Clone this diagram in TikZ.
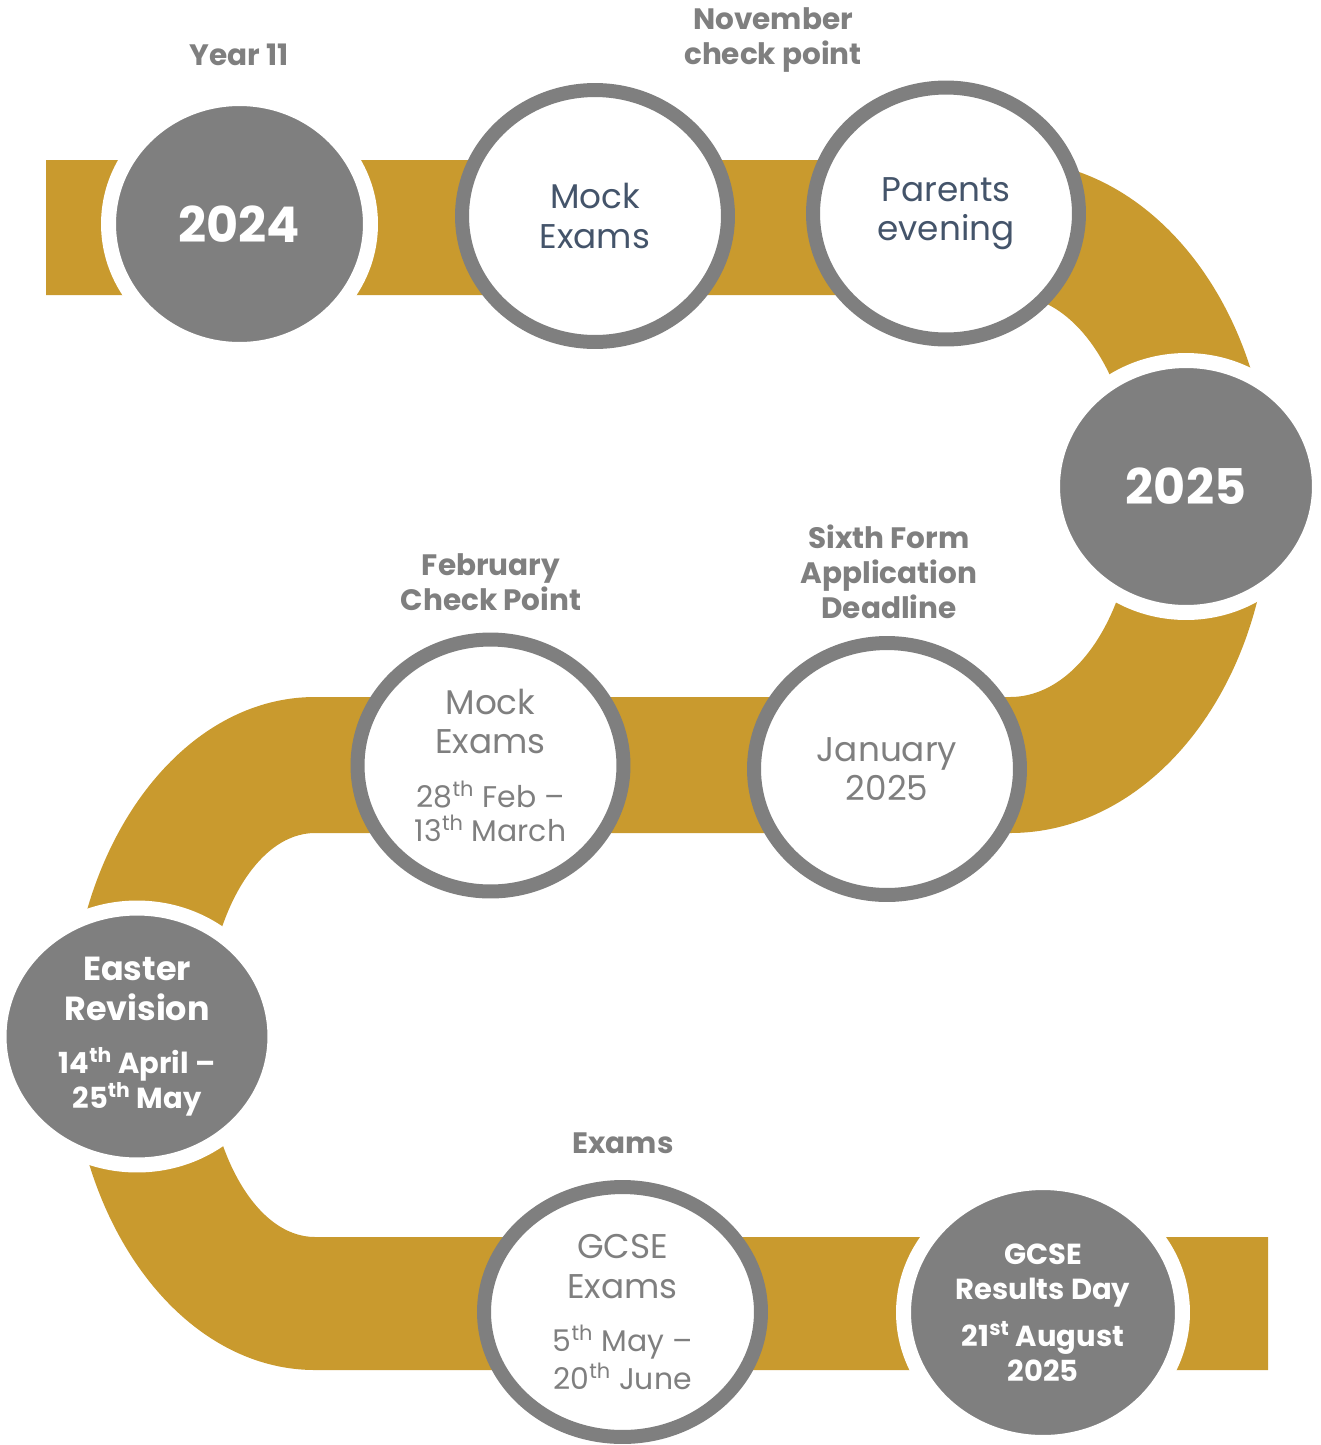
\documentclass[tikz,border=0pt]{standalone}
\usepackage{fontspec}
\setmainfont{Poppins}
\usetikzlibrary{shapes.geometric}

\definecolor{gold}{HTML}{C99A2E}
\definecolor{greyc}{HTML}{7F7F7F}
\definecolor{slate}{HTML}{44546A}

\newcommand{\datefont}{\fontsize{17}{19.8}\selectfont}

\tikzset{
  darkdisc/.style={ellipse,inner sep=0pt,align=center,fill=greyc,draw=white,
    line width=0.3cm,text=white},
  ringdisc/.style={ellipse,inner sep=0pt,align=center,fill=white,draw=greyc,
    line width=0.28cm,minimum width=5.32cm,minimum height=5.04cm,
    font=\fontsize{19.5}{22.5}\selectfont},
  toplabel/.style={align=center,text=greyc,font=\bfseries\fontsize{16.8}{19.8}\selectfont},
}

\begin{document}
\begin{tikzpicture}[x=0.02cm,y=-0.02cm]
\useasboundingbox (0,0) rectangle (1321,1445);

% the road
\fill[gold] (46,160) -- (1010,160) arc[start angle=-90,end angle=90,x radius=260,y radius=336.5]
  -- (315,833) arc[start angle=270,end angle=90,x radius=110,y radius=202]
  -- (1268,1237) -- (1268,1370) -- (315,1370)
  arc[start angle=90,end angle=270,x radius=245,y radius=336.5]
  -- (1010,697) arc[start angle=90,end angle=-90,x radius=125,y radius=201]
  -- (46,295) -- cycle;

% stops
\node[darkdisc,minimum width=5.24cm,minimum height=5.02cm,font=\bfseries\fontsize{28}{32}\selectfont] at (239.5,224) (y24) {2024};
\node[ringdisc,text=slate] at (595,216) (mock1) {Mock\\Exams};
\node[ringdisc,text=slate] at (946,213.5) (parents) {Parents\\evening};
\node[darkdisc,minimum width=5.34cm,minimum height=5.04cm,font=\bfseries\fontsize{28}{32}\selectfont] at (1186,486.5) (y25) {2025};
\node[ringdisc,text=greyc] at (887,769) (jan) {January\\2025};
\node[ringdisc,text=greyc] at (490.5,765.5) (mock2) {Mock\\Exams\\[8pt]{\datefont 28\textsuperscript{th} Feb –}\\[-3pt]{\datefont 13\textsuperscript{th} March}};
\node[darkdisc,minimum width=5.52cm,minimum height=5.14cm,font=\bfseries\fontsize{19}{22.5}\selectfont] at (137,1036.5) (easter) {Easter\\Revision\\[8pt]{\fontsize{16.5}{19.8}\selectfont 14\textsuperscript{th} April –}\\[-3pt]{\fontsize{16.5}{19.8}\selectfont 25\textsuperscript{th} May}};
\node[ringdisc,text=greyc,minimum width=5.54cm,minimum height=5.0cm] at (622.5,1312) (gcse) {GCSE\\Exams\\[8pt]{\datefont 5\textsuperscript{th} May –}\\[-1pt]{\datefont 20\textsuperscript{th} June}};
\node[darkdisc,minimum width=5.58cm,minimum height=5.2cm,font=\bfseries\fontsize{16.5}{19.8}\selectfont] at (1043,1312.5) (results) {GCSE\\Results Day\\[7pt]21\textsuperscript{st} August\\2025};

% captions
\node[toplabel] at (239,55) (lyear) {Year 11};
\node[toplabel] at (773,40) (lnov) {November\\check point};
\node[toplabel] at (889,572) (lsixth) {Sixth Form\\Application\\Deadline};
\node[toplabel] at (491,582) (lfeb) {February\\Check Point};
\node[toplabel] at (623,1143) (lexams) {Exams};
\end{tikzpicture}
\end{document}
